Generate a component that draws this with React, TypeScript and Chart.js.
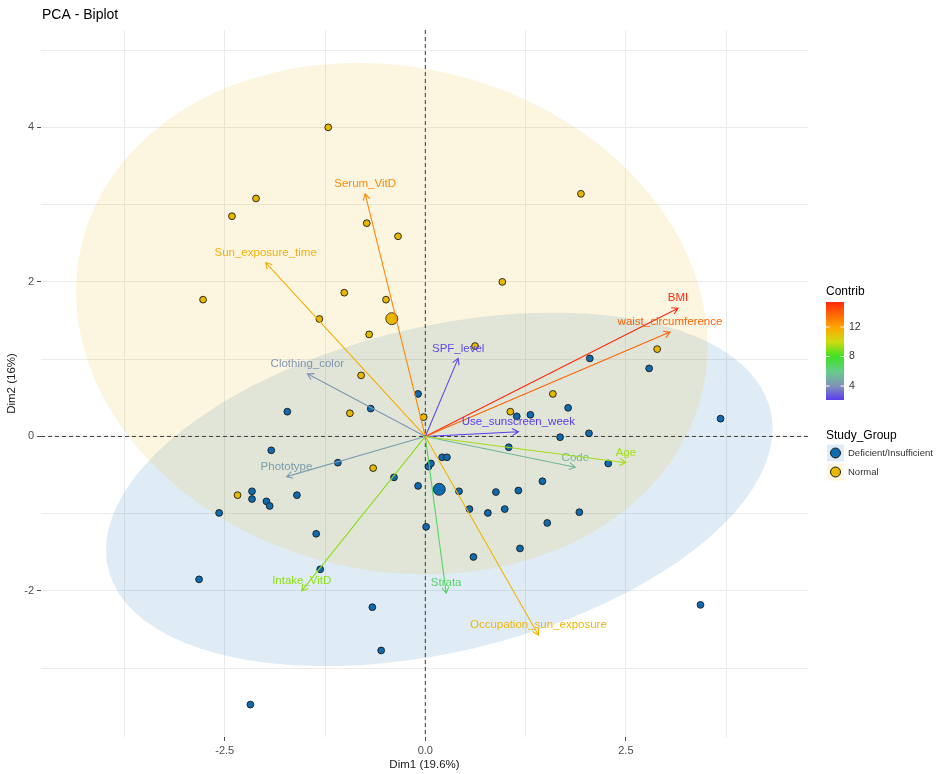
import React, { useEffect, useRef } from "react";
import { Chart, registerables } from "chart.js";

Chart.register(...registerables);

// ---------- data ----------
const groupNames = ["Deficient/Insufficient", "Normal"];

const deficientDim1 = [
  -0.09, -0.68, 1.14, 1.31, 1.78, 1.68, 2.04, 1.04, 2.28, -1.09,
  0.21, 0.27, 0.04, 0.07, -0.39, -0.09, 0.42, 0.88, 1.16, 1.46,
  0.55, 0.78, 0.99, 1.92, 1.52, 0.01, -1.36, 1.18, 0.6, -1.31,
  -0.66, -0.55, -1.72, -1.92, -2.16, -2.16, -1.98, -1.94, -1.6, -2.57,
  -2.82, -2.18, 2.05, 2.79, 3.68, 3.43,
];
const deficientDim2 = [
  0.55, 0.36, 0.26, 0.28, 0.37, -0.01, 0.04, -0.14, -0.35, -0.34,
  -0.27, -0.27, -0.39, -0.35, -0.53, -0.64, -0.71, -0.72, -0.7, -0.58,
  -0.94, -0.99, -0.94, -0.98, -1.12, -1.17, -1.26, -1.45, -1.56, -1.72,
  -2.21, -2.77, 0.32, -0.18, -0.71, -0.81, -0.84, -0.9, -0.76, -0.99,
  -1.85, -3.47, 1.01, 0.88, 0.23, -2.18,
];
const normalDim1 = [
  -1.21, -2.11, -2.41, -0.73, -0.34, 1.94, 0.96, -1.01, -2.77, -0.49,
  -1.32, -0.7, 0.62, 2.89, 1.59, 1.06, -0.94, -0.02, -0.65, -2.34, -0.8,
];
const normalDim2 = [
  4.0, 3.08, 2.85, 2.76, 2.59, 3.14, 2.0, 1.86, 1.77, 1.77,
  1.52, 1.32, 1.17, 1.13, 0.55, 0.32, 0.3, 0.25, -0.41, -0.76, 0.79,
];

const varNames = [
  "BMI", "waist_circumference", "Serum_VitD", "Sun_exposure_time",
  "Clothing_color", "SPF_level", "Use_sunscreen_week", "Code", "Age",
  "Phototype", "Intake_VitD", "Strata", "Occupation_sun_exposure",
];
const varDim1 = [3.15, 3.05, -0.75, -1.99, -1.47, 0.41, 1.16, 1.87, 2.5, -1.73, -1.54, 0.26, 1.41];
const varDim2 = [1.66, 1.35, 3.14, 2.25, 0.81, 1.01, 0.06, -0.4, -0.34, -0.52, -2.0, -2.03, -2.57];
const varContrib = [15.4, 13.8, 12.8, 11.6, 4.1, 2.4, 2.1, 5.3, 9.4, 4.4, 9.1, 6.8, 11.4];

const xTicks = [-3.75, -2.5, -1.25, 0, 1.25, 2.5, 3.75];
const xTickLabels = ["", "-2.5", "", "0.0", "", "2.5", ""];
const yTicks = [-3, -2, -1, 0, 1, 2, 3, 4, 5];
const yTickLabels = ["", "-2", "", "0", "", "2", "", "4", ""];

const contribBreaks = [4, 8, 12];
const contribLimits = [2.1, 15.4];

// ---------- styles ----------
const groupColors = ["#0E6BB0", "#E7B800"];
const gradientStops = [2.1, 4, 6, 8, 10, 12, 15.4];
const gradientColors = ["#5a3cf2", "#8292b6", "#66cc8a", "#3ee024", "#cfdc10", "#ffa400", "#ff2a0c"];
const FONT = "'Liberation Sans', Arial, sans-serif";

Chart.defaults.font.family = FONT;

// ---------- helpers ----------
function hexToRgb(h: string): number[] {
  const s = h.replace("#", "");
  return [parseInt(s.slice(0, 2), 16), parseInt(s.slice(2, 4), 16), parseInt(s.slice(4, 6), 16)];
}
function rgba(h: string, a: number) {
  const [r, g, b] = hexToRgb(h);
  return `rgba(${r},${g},${b},${a})`;
}
function contribColor(v: number): string {
  if (v <= gradientStops[0]) return gradientColors[0];
  for (let i = 1; i < gradientStops.length; i++) {
    if (v <= gradientStops[i]) {
      const t = (v - gradientStops[i - 1]) / (gradientStops[i] - gradientStops[i - 1]);
      const a = hexToRgb(gradientColors[i - 1]);
      const b = hexToRgb(gradientColors[i]);
      const c = a.map((av, k) => Math.round(av + (b[k] - av) * t));
      return `rgb(${c[0]},${c[1]},${c[2]})`;
    }
  }
  return gradientColors[gradientColors.length - 1];
}

type Stats = { n: number; mx: number; my: number; cxx: number; cyy: number; cxy: number };
function groupStats(xs: number[], ys: number[]): Stats {
  const n = xs.length;
  const mx = xs.reduce((a, b) => a + b, 0) / n;
  const my = ys.reduce((a, b) => a + b, 0) / n;
  let sxx = 0, syy = 0, sxy = 0;
  for (let i = 0; i < n; i++) {
    const dx = xs[i] - mx, dy = ys[i] - my;
    sxx += dx * dx; syy += dy * dy; sxy += dx * dy;
  }
  return { n, mx, my, cxx: sxx / (n - 1), cyy: syy / (n - 1), cxy: sxy / (n - 1) };
}
// normal-theory 95% ellipse (as stat_ellipse type = "norm")
function ellipsePoints(st: Stats, level = 0.95, seg = 90): number[][] {
  const m = st.n - 1;
  const q = (m / 2) * (Math.pow(1 - level, -2 / m) - 1); // qf(level, 2, m)
  const r = Math.sqrt(2 * q);
  const a = Math.sqrt(st.cxx);
  const b = st.cxy / a;
  const c = Math.sqrt(Math.max(st.cyy - b * b, 0));
  const pts: number[][] = [];
  for (let i = 0; i <= seg; i++) {
    const t = (i / seg) * Math.PI * 2;
    const ct = Math.cos(t), stt = Math.sin(t);
    pts.push([st.mx + r * ct * a, st.my + r * (ct * b + stt * c)]);
  }
  return pts;
}

const groupsX = [deficientDim1, normalDim1];
const groupsY = [deficientDim2, normalDim2];
const stats = groupsX.map((xs, i) => groupStats(xs, groupsY[i]));

// ---------- plugin ----------
const biplotPlugin = {
  id: "biplotDecor",
  beforeDatasetsDraw(chart: any) {
    const { ctx, chartArea: ca, scales } = chart;
    const xs = scales.x, ys = scales.y;
    ctx.save();
    ctx.beginPath();
    ctx.rect(ca.left, ca.top, ca.right - ca.left, ca.bottom - ca.top);
    ctx.clip();
    stats.forEach((st, gi) => {
      const pts = ellipsePoints(st);
      ctx.beginPath();
      pts.forEach((p, i) => {
        const px = xs.getPixelForValue(p[0]);
        const py = ys.getPixelForValue(p[1]);
        if (i === 0) ctx.moveTo(px, py); else ctx.lineTo(px, py);
      });
      ctx.closePath();
      ctx.fillStyle = rgba(groupColors[gi], gi === 0 ? 0.13 : 0.12);
      ctx.fill();
    });
    // reference lines at 0
    const x0 = xs.getPixelForValue(0);
    const y0 = ys.getPixelForValue(0);
    ctx.setLineDash([4, 3]);
    ctx.strokeStyle = "#3a3a3a";
    ctx.lineWidth = 1;
    ctx.beginPath();
    ctx.moveTo(x0, ca.top); ctx.lineTo(x0, ca.bottom);
    ctx.moveTo(ca.left, y0); ctx.lineTo(ca.right, y0);
    ctx.stroke();
    ctx.restore();
  },
  afterDatasetsDraw(chart: any) {
    const { ctx, chartArea: ca, scales } = chart;
    const xs = scales.x, ys = scales.y;
    const ox = xs.getPixelForValue(0), oy = ys.getPixelForValue(0);
    ctx.save();
    // variable arrows
    varNames.forEach((name, i) => {
      const col = contribColor(varContrib[i]);
      const tx = xs.getPixelForValue(varDim1[i]);
      const ty = ys.getPixelForValue(varDim2[i]);
      ctx.strokeStyle = col;
      ctx.lineWidth = 1.1;
      ctx.setLineDash([]);
      ctx.beginPath();
      ctx.moveTo(ox, oy);
      ctx.lineTo(tx, ty);
      const ang = Math.atan2(ty - oy, tx - ox);
      const L = 7;
      const spread = Math.PI / 6;
      ctx.moveTo(tx - L * Math.cos(ang - spread), ty - L * Math.sin(ang - spread));
      ctx.lineTo(tx, ty);
      ctx.lineTo(tx - L * Math.cos(ang + spread), ty - L * Math.sin(ang + spread));
      ctx.stroke();
      ctx.fillStyle = col;
      ctx.font = `11.5px ${FONT}`;
      ctx.textAlign = "center";
      ctx.textBaseline = "middle";
      ctx.fillText(name, tx, ty - 10);
    });

    // title
    ctx.fillStyle = "#000";
    ctx.font = `14px ${FONT}`;
    ctx.textAlign = "left";
    ctx.textBaseline = "middle";
    ctx.fillText("PCA - Biplot", 42, 15);

    // legend: Contrib colour bar
    const lx = ca.right + 18;
    ctx.font = `12px ${FONT}`;
    ctx.fillStyle = "#000";
    ctx.fillText("Contrib", lx, 292);
    const barTop = 302, barBot = 400, barW = 18;
    const span = contribLimits[1] - contribLimits[0];
    const grad = ctx.createLinearGradient(0, barBot, 0, barTop);
    gradientStops.forEach((s, k) => {
      grad.addColorStop(Math.min(1, Math.max(0, (s - contribLimits[0]) / span)), gradientColors[k]);
    });
    ctx.fillStyle = grad;
    ctx.fillRect(lx, barTop, barW, barBot - barTop);
    ctx.font = `10.5px ${FONT}`;
    contribBreaks.forEach((b) => {
      const yy = barBot - ((b - contribLimits[0]) / span) * (barBot - barTop);
      ctx.strokeStyle = "#ffffff";
      ctx.lineWidth = 1;
      ctx.beginPath();
      ctx.moveTo(lx, yy); ctx.lineTo(lx + 3.5, yy);
      ctx.moveTo(lx + barW - 3.5, yy); ctx.lineTo(lx + barW, yy);
      ctx.stroke();
      ctx.fillStyle = "#333";
      ctx.fillText(String(b), lx + barW + 5, yy);
    });

    // legend: Study_Group
    ctx.font = `12px ${FONT}`;
    ctx.fillStyle = "#000";
    ctx.fillText("Study_Group", lx, 436);
    groupNames.forEach((g, gi) => {
      const cy = 453 + gi * 19;
      ctx.fillStyle = rgba(groupColors[gi], 0.13);
      ctx.fillRect(lx + 1, cy - 8.5, 17, 17);
      ctx.beginPath();
      ctx.arc(lx + 9.5, cy, 5, 0, Math.PI * 2);
      ctx.fillStyle = groupColors[gi];
      ctx.fill();
      ctx.strokeStyle = "#1b1b1b";
      ctx.lineWidth = 1;
      ctx.stroke();
      ctx.fillStyle = "#333";
      ctx.font = `9.5px ${FONT}`;
      ctx.fillText(g, lx + 22, cy);
    });
    ctx.restore();
  },
};

export default function App() {
  const ref = useRef<HTMLCanvasElement>(null);
  useEffect(() => {
    if (!ref.current) return;
    const toPts = (xs: number[], ys: number[]) => xs.map((v, i) => ({ x: v, y: ys[i] }));
    const chart = new Chart(ref.current, {
      type: "scatter",
      data: {
        datasets: [
          {
            label: groupNames[0],
            data: toPts(deficientDim1, deficientDim2),
            backgroundColor: groupColors[0],
            borderColor: "#1b1b1b",
            borderWidth: 0.9,
            pointRadius: 3.4,
          },
          {
            label: groupNames[1],
            data: toPts(normalDim1, normalDim2),
            backgroundColor: groupColors[1],
            borderColor: "#1b1b1b",
            borderWidth: 0.9,
            pointRadius: 3.4,
          },
          {
            label: "Group means",
            data: stats.map((s) => ({ x: s.mx, y: s.my })),
            backgroundColor: groupColors,
            borderColor: "#1b1b1b",
            borderWidth: 0.8,
            pointRadius: 6,
          },
        ],
      },
      options: {
        animation: false,
        responsive: false,
        devicePixelRatio: 1,
        layout: { padding: { left: 0, top: 30, right: 129, bottom: 0 } },
        plugins: { legend: { display: false }, tooltip: { enabled: false } },
        scales: {
          x: {
            type: "linear",
            min: -4.79,
            max: 4.77,
            afterBuildTicks: (axis: any) => {
              axis.ticks = xTicks.map((v) => ({ value: v }));
            },
            afterFit: (axis: any) => {
              axis.height = 37;
            },
            ticks: {
              autoSkip: false,
              maxRotation: 0,
              color: "#4d4d4d",
              font: { size: 11 },
              padding: 3,
              callback: (v: any) => {
                const i = xTicks.indexOf(Number(v));
                return i >= 0 ? xTickLabels[i] : "";
              },
            },
            grid: {
              color: "#ebebeb",
              lineWidth: 1,
              tickLength: 4,
              tickColor: (c: any) => {
                const i = xTicks.indexOf(c.tick ? c.tick.value : NaN);
                return i >= 0 && xTickLabels[i] ? "#4d4d4d" : "rgba(0,0,0,0)";
              },
            },
            border: { display: false },
            title: {
              display: true,
              text: "Dim1 (19.6%)",
              color: "#1a1a1a",
              font: { size: 11.5 },
              padding: { top: 2, bottom: 2.5 },
            },
          },
          y: {
            type: "linear",
            min: -3.89,
            max: 5.26,
            afterBuildTicks: (axis: any) => {
              axis.ticks = yTicks.map((v) => ({ value: v }));
            },
            afterFit: (axis: any) => {
              axis.width = 41;
            },
            ticks: {
              autoSkip: false,
              color: "#4d4d4d",
              font: { size: 11 },
              padding: 3,
              callback: (v: any) => {
                const i = yTicks.indexOf(Number(v));
                return i >= 0 ? yTickLabels[i] : "";
              },
            },
            grid: {
              color: "#ebebeb",
              lineWidth: 1,
              tickLength: 4,
              tickColor: (c: any) => {
                const i = yTicks.indexOf(c.tick ? c.tick.value : NaN);
                return i >= 0 && yTickLabels[i] ? "#4d4d4d" : "rgba(0,0,0,0)";
              },
            },
            border: { display: false },
            title: {
              display: true,
              text: "Dim2 (16%)",
              color: "#1a1a1a",
              font: { size: 11.5 },
              padding: { top: 5, bottom: 2 },
            },
          },
        },
      } as any,
      plugins: [biplotPlugin],
    });
    return () => chart.destroy();
  }, []);
  return (
    <div style={{ position: "fixed", left: 0, top: 0, width: 937, height: 774, background: "#ffffff" }}>
      <canvas ref={ref} width={937} height={774} style={{ display: "block" }} />
    </div>
  );
}
